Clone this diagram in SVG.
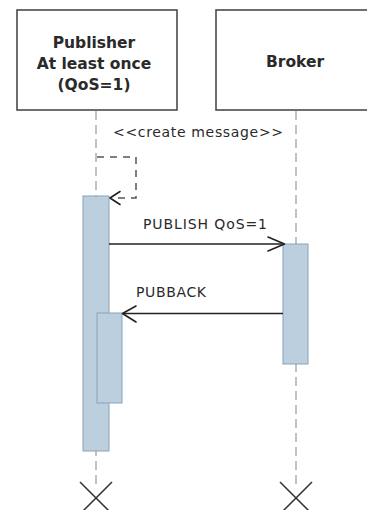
<svg xmlns="http://www.w3.org/2000/svg" width="367" height="510" viewBox="0 0 367 510">
  <style>
    .box { fill: #ffffff; stroke: #4a4a4a; stroke-width: 1.6; }
    .title { font-family: "DejaVu Sans", Verdana, sans-serif; font-weight: bold; font-size: 15.5px; fill: #2a2a2a; text-anchor: middle; }
    .label { font-family: "DejaVu Sans", Verdana, sans-serif; font-size: 14px; fill: #2a2a2a; }
    .lifeline { stroke: #a0a0a0; stroke-width: 1.3; stroke-dasharray: 9 5; fill: none; }
    .act { fill: #bccfdf; stroke: #8aa2b6; stroke-width: 1; }
    .msg { stroke: #222222; stroke-width: 1.4; fill: none; }
    .self { stroke: #555555; stroke-width: 1.5; stroke-dasharray: 7 6; fill: none; }
    .head { stroke: #222222; stroke-width: 1.6; fill: none; stroke-linecap: round; stroke-linejoin: round; }
    .end { stroke: #333333; stroke-width: 1.5; fill: none; }
  </style>

  <rect width="367" height="510" fill="#ffffff"/>

  <!-- participant: Publisher -->
  <g id="publisher">
    <rect class="box" x="17" y="10" width="160" height="100"/>
    <text class="title" x="94" y="47.5">Publisher</text>
    <text class="title" x="94" y="69">At least once</text>
    <text class="title" x="94" y="89.5">(QoS=1)</text>
  </g>

  <!-- participant: Broker -->
  <g id="broker">
    <rect class="box" x="216" y="10" width="160" height="100"/>
    <text class="title" x="295" y="67">Broker</text>
  </g>

  <!-- lifelines, activations and termination marks -->
  <g id="publisher-lifeline">
    <line class="lifeline" x1="96" y1="111" x2="96" y2="484"/>
    <rect class="act" x="83" y="196" width="26" height="255"/>
    <rect class="act" x="97" y="313" width="25" height="90"/>
    <path class="end" d="M80 482 L112 514 M112 482 L80 514"/>
  </g>

  <g id="broker-lifeline">
    <line class="lifeline" x1="296" y1="111" x2="296" y2="484"/>
    <rect class="act" x="283" y="244" width="25" height="120"/>
    <path class="end" d="M280 482 L312 514 M312 482 L280 514"/>
  </g>

  <!-- messages -->
  <g id="connectors">
    <g id="create-message">
      <text class="label" x="113" y="136.5" textLength="170">&lt;&lt;create message&gt;&gt;</text>
      <path class="self" d="M97 157 H136 V198 H112"/>
      <path class="head" d="M120 191.5 L110 198 L120 204.5"/>
    </g>
    <g id="publish">
      <text class="label" x="143" y="228.5" textLength="124">PUBLISH QoS=1</text>
      <line class="msg" x1="109" y1="244" x2="284" y2="244"/>
      <path class="head" d="M268 237 L284.5 244 L268 251"/>
    </g>
    <g id="pubback">
      <text class="label" x="136" y="296.5" textLength="70">PUBBACK</text>
      <line class="msg" x1="283" y1="313.5" x2="123" y2="313.5"/>
      <path class="head" d="M136 306 L122.5 313.5 L136 322"/>
    </g>
  </g>
</svg>
